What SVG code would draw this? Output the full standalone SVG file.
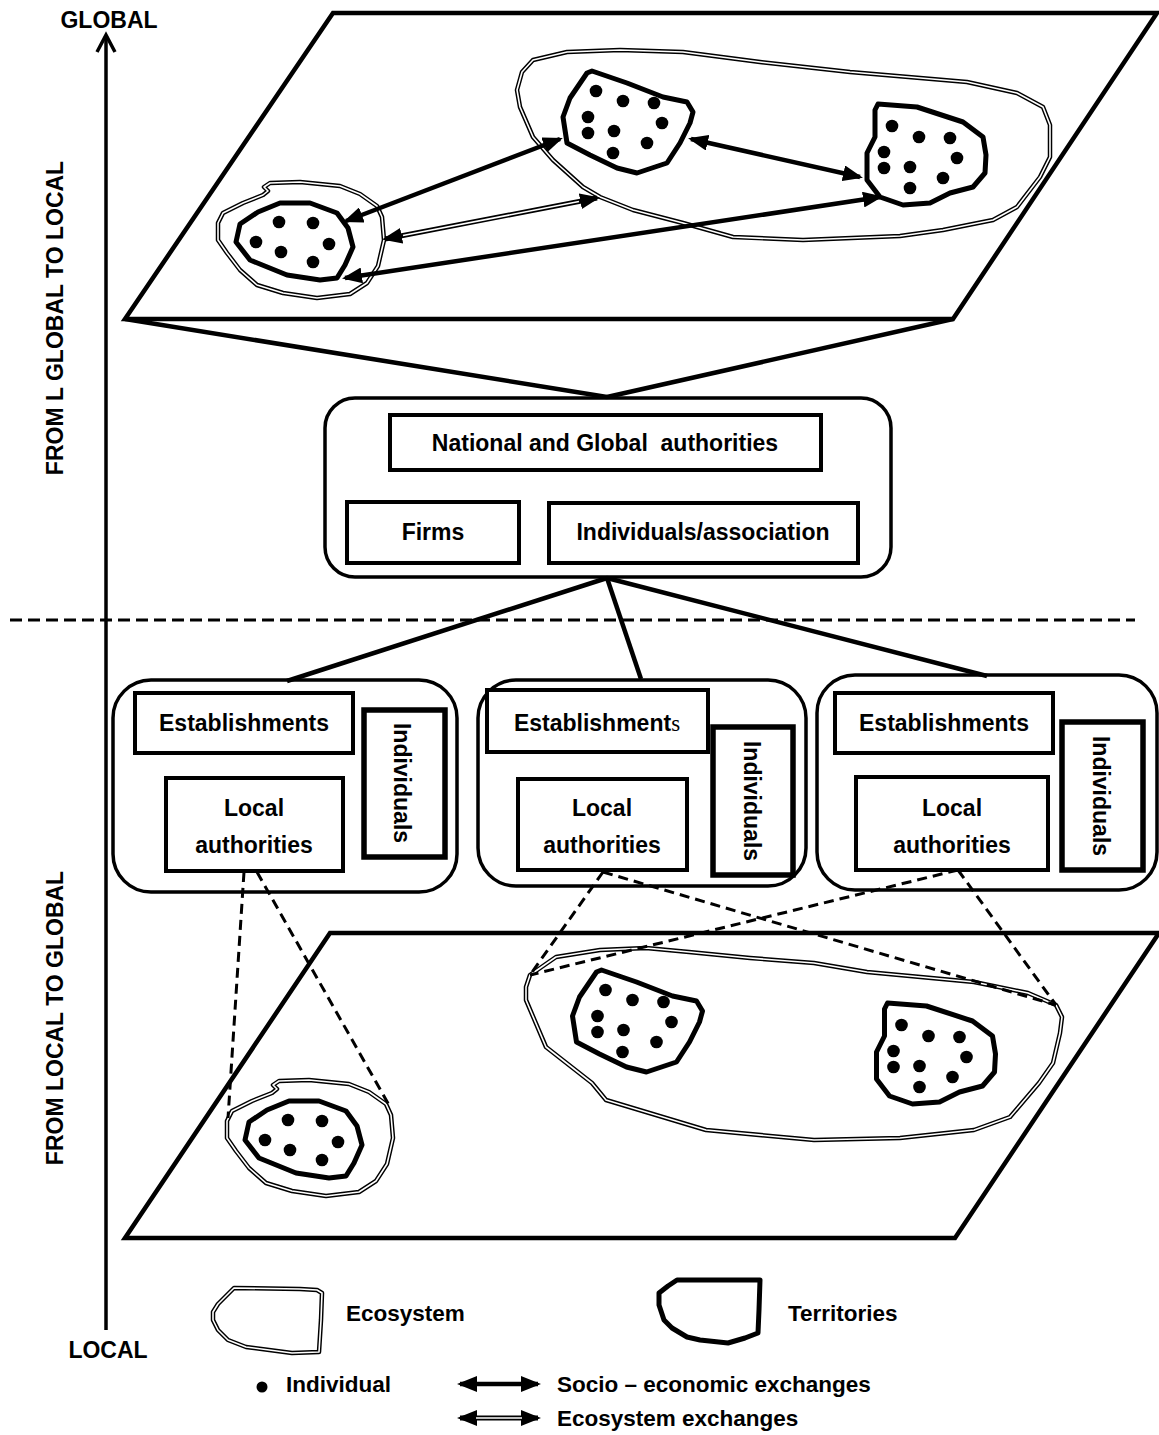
<svg xmlns="http://www.w3.org/2000/svg" width="1159" height="1435" viewBox="0 0 1159 1435">
<defs>
<style>
.box{fill:#fff;stroke:#000;stroke-width:3.5}
.rc{fill:#fff;stroke:#000;stroke-width:4}
.ind{fill:#fff;stroke:#000;stroke-width:5.5}
.t{font-family:"Liberation Sans",Arial,sans-serif;font-weight:bold;font-size:23px;fill:#000;text-anchor:middle}
.tl{font-family:"Liberation Sans",Arial,sans-serif;font-weight:bold;font-size:22.5px;fill:#000}
.ax{font-family:"Liberation Sans",Arial,sans-serif;font-weight:bold;font-size:23px;fill:#000;text-anchor:middle}
.plane{fill:#fff;stroke:#000;stroke-width:4.5;stroke-linejoin:miter}
.ecoO{fill:none;stroke:#000;stroke-width:4.5;stroke-linejoin:round}
.ecoI{fill:none;stroke:#fff;stroke-width:1.6;stroke-linejoin:round}
.terr{fill:#fff;stroke:#000;stroke-width:5;stroke-linejoin:round}
.dash{fill:none;stroke:#000;stroke-width:3;stroke-dasharray:10 6}
.thick{fill:none;stroke:#000;stroke-width:4.5}
.arr{fill:none;stroke:#000;stroke-width:4.5;marker-start:url(#ah);marker-end:url(#ah)}
.earr{fill:none;stroke:#000;stroke-width:5;marker-start:url(#ah);marker-end:url(#ah)}
.ecore{fill:none;stroke:#fff;stroke-width:1.6}
</style>
<marker id="ah" viewBox="0 0 20 16" refX="17" refY="8" markerWidth="20" markerHeight="16" markerUnits="userSpaceOnUse" orient="auto-start-reverse"><path d="M0,0 L20,8 L0,16 z" fill="#000"/></marker>
<polygon id="ecoSmall" points="263,195 268,191 264,187 270,183 300,182 340,186 360,194 377,206 382,217 384,240 378,266 367,283 350,294 317,298 283,293 257,285 240,270 227,253 218,240 218,223 223,213 243,203"/>
<polygon id="terrSmall" points="258,212 280,203 310,203 337,213 348,228 353,247 345,265 337,278 320,280 287,275 250,260 236,242 240,224"/>
<polygon id="terrMid" points="587,73 592,71 627,83 663,97 687,102 693,112 690,123 680,143 667,163 637,173 617,168 590,155 567,143 563,117 570,98"/>
<polygon id="terrRight" points="875,110 878,104 917,107 963,122 983,137 986,155 985,173 973,187 950,193 930,203 903,205 880,197 867,180 867,153 875,137"/>
<polygon id="ecoBigTop" points="533,60 567,52 620,50 683,52 760,62 850,72 967,82 1017,93 1043,107 1050,125 1050,157 1040,177 1017,207 993,220 943,230 900,236 803,240 733,237 683,223 633,210 600,197 583,187 553,160 533,137 520,107 517,90 522,72"/>
<polygon id="ecoBigBot" points="530,975 556,957 600,950 646,948 689,952 750,958 814,963 867,972 974,982 1028,993 1056,1005 1062,1017 1060,1033 1053,1063 1039,1083 1010,1117 974,1130 900,1138 814,1140 706,1130 606,1100 592,1083 546,1047 526,1000 526,987"/>
<polygon id="ecoLeg" points="213,1312 218,1304 234,1288 300,1289 317,1290 322,1293 321,1320 319,1352 292,1353 246,1347 228,1340 218,1330 213,1320"/>
<g id="dotsSmall"><circle cx="279" cy="222" r="6.3"/><circle cx="313" cy="223" r="6.3"/><circle cx="256" cy="242" r="6.3"/><circle cx="281" cy="252" r="6.3"/><circle cx="329" cy="244" r="6.3"/><circle cx="313" cy="262" r="6.3"/></g>
<g id="dotsMid"><circle cx="596" cy="91" r="6.3"/><circle cx="623" cy="101" r="6.3"/><circle cx="654" cy="103" r="6.3"/><circle cx="588" cy="117" r="6.3"/><circle cx="662" cy="123" r="6.3"/><circle cx="588" cy="133" r="6.3"/><circle cx="614" cy="131" r="6.3"/><circle cx="647" cy="143" r="6.3"/><circle cx="613" cy="153" r="6.3"/></g>
<g id="dotsRight"><circle cx="892" cy="126" r="6.3"/><circle cx="919" cy="137" r="6.3"/><circle cx="950" cy="138" r="6.3"/><circle cx="884" cy="152" r="6.3"/><circle cx="957" cy="158" r="6.3"/><circle cx="884" cy="168" r="6.3"/><circle cx="910" cy="167" r="6.3"/><circle cx="943" cy="178" r="6.3"/><circle cx="910" cy="188" r="6.3"/></g>
</defs>
<rect width="1159" height="1435" fill="#fff"/>

<g id="axis">
<line x1="106" y1="36" x2="106" y2="1330" stroke="#000" stroke-width="3.5"/>
<polyline points="97,52 106,35 115,52" fill="none" stroke="#000" stroke-width="3.5"/>
<text class="ax" x="109" y="28">GLOBAL</text>
<text class="ax" x="108" y="1358">LOCAL</text>
<text class="ax" transform="translate(63,318) rotate(-90)">FROM L GLOBAL TO LOCAL</text>
<text class="ax" transform="translate(63,1018) rotate(-90)">FROM LOCAL TO GLOBAL</text>
</g>

<g id="separator">
<line x1="10" y1="620" x2="1135" y2="620" stroke="#000" stroke-width="3" stroke-dasharray="12 6"/>
</g>

<g id="global-plane">
<polygon class="plane" points="333,13 1157,13 953,319 125,319"/>
<use href="#ecoBigTop" class="ecoO"/><use href="#ecoBigTop" class="ecoI"/>
<use href="#ecoSmall" class="ecoO"/><use href="#ecoSmall" class="ecoI"/>
<use href="#terrSmall" class="terr"/><use href="#dotsSmall"/>
<use href="#terrMid" class="terr"/><use href="#dotsMid"/>
<use href="#terrRight" class="terr"/><use href="#dotsRight"/>
</g>

<g id="local-plane">
<polygon class="plane" points="330,933 1159,933 955,1238 125,1238"/>
<use href="#ecoBigBot" class="ecoO"/><use href="#ecoBigBot" class="ecoI"/>
<g transform="translate(9,898)">
<use href="#ecoSmall" class="ecoO"/><use href="#ecoSmall" class="ecoI"/>
<use href="#terrSmall" class="terr"/><use href="#dotsSmall"/>
</g>
<g transform="translate(9.5,899)">
<use href="#terrMid" class="terr"/><use href="#dotsMid"/>
<use href="#terrRight" class="terr"/><use href="#dotsRight"/>
</g>
</g>

<g id="national">
<rect class="box" x="325" y="398" width="566" height="179" rx="30"/>
<rect class="rc" x="390" y="415" width="431" height="55"/>
<text class="t" x="605" y="451">National and Global&#160; authorities</text>
<rect class="rc" x="347" y="502" width="172" height="61"/>
<text class="t" x="433" y="540">Firms</text>
<rect class="rc" x="549" y="503" width="309" height="60"/>
<text class="t" x="703" y="540">Individuals/association</text>
</g>

<g id="local1">
<rect class="box" x="113" y="680" width="344" height="212" rx="38"/>
<rect class="rc" x="135" y="693" width="218" height="60"/>
<text class="t" x="244" y="731">Establishments</text>
<rect class="ind" x="364" y="710" width="81" height="147"/>
<text class="t" transform="translate(394,783) rotate(90)">Individuals</text>
<rect class="rc" x="166" y="778" width="177" height="93"/>
<text class="t" x="254" y="816">Local</text>
<text class="t" x="254" y="853">authorities</text>
</g>

<g id="local2">
<rect class="box" x="478" y="680" width="328" height="206" rx="38"/>
<rect class="rc" x="487" y="690" width="221" height="62"/>
<text class="t" x="597" y="731">Establishment<tspan font-family="'Liberation Serif',serif" font-weight="normal">s</tspan></text>
<rect class="ind" x="713" y="727" width="80" height="148"/>
<text class="t" transform="translate(744,801) rotate(90)">Individuals</text>
<rect class="rc" x="518" y="779" width="169" height="91"/>
<text class="t" x="602" y="816">Local</text>
<text class="t" x="602" y="853">authorities</text>
</g>

<g id="local3">
<rect class="box" x="817" y="675" width="340" height="215" rx="38"/>
<rect class="rc" x="835" y="693" width="218" height="60"/>
<text class="t" x="944" y="731">Establishments</text>
<rect class="ind" x="1062" y="722" width="81" height="148"/>
<text class="t" transform="translate(1093,796) rotate(90)">Individuals</text>
<rect class="rc" x="856" y="777" width="192" height="93"/>
<text class="t" x="952" y="816">Local</text>
<text class="t" x="952" y="853">authorities</text>
</g>

<g id="connectors">
<line class="thick" x1="125" y1="319" x2="607" y2="397"/>
<line class="thick" x1="953" y1="319" x2="607" y2="397"/>
<line class="thick" x1="607" y1="578" x2="287" y2="681"/>
<line class="thick" x1="607" y1="578" x2="641" y2="679"/>
<line class="thick" x1="607" y1="578" x2="987" y2="676"/>
<line class="arr" x1="346" y1="221" x2="560" y2="139"/>
<line class="arr" x1="691" y1="139" x2="860" y2="177"/>
<line class="arr" x1="345" y1="278" x2="880" y2="197"/>
<line class="earr" x1="385" y1="239" x2="597" y2="198"/>
<line class="ecore" x1="403" y1="235.5" x2="579" y2="201.5"/>
<line class="dash" x1="244" y1="872" x2="228" y2="1118"/>
<line class="dash" x1="257" y1="872" x2="389" y2="1105"/>
<line class="dash" x1="603" y1="872" x2="530" y2="975"/>
<line class="dash" x1="603" y1="872" x2="1056" y2="1005"/>
<line class="dash" x1="958" y1="870" x2="530" y2="975"/>
<line class="dash" x1="958" y1="870" x2="1056" y2="1005"/>
</g>

<g id="legend">
<use href="#ecoLeg" class="ecoO"/><use href="#ecoLeg" class="ecoI"/>
<text class="tl" x="346" y="1321">Ecosystem</text>
<polygon class="terr" points="659,1293 668,1286 677,1280 760,1280 759,1310 758,1333 745,1338 728,1343 700,1340 687,1337 672,1328 664,1320 659,1305"/>
<text class="tl" x="788" y="1321">Territories</text>
<circle cx="262" cy="1387" r="5.5"/>
<text class="tl" x="286" y="1392">Individual</text>
<line class="arr" x1="460" y1="1384" x2="538" y2="1384"/>
<text class="tl" x="557" y="1392">Socio – economic exchanges</text>
<line class="earr" x1="460" y1="1418" x2="538" y2="1418"/>
<line class="ecore" x1="476" y1="1418" x2="522" y2="1418"/>
<text class="tl" x="557" y="1426">Ecosystem exchanges</text>
</g>
</svg>
